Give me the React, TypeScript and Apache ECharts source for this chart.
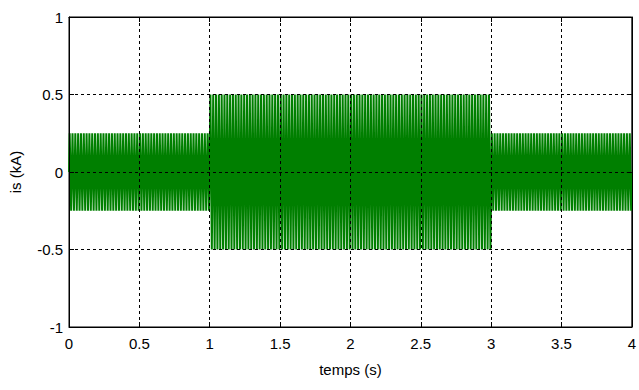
import React, { useEffect, useRef } from "react";
import * as echarts from "echarts";

// Envelope of the current trace
const segmentStart = [0, 1, 3];
const segmentEnd = [1, 3, 4];
const segmentAmplitude = [0.25, 0.5, 0.25]; // kA
const oscillationsPerSecond = 50; // visible strokes per second

const xTickLabels = ["0", "0.5", "1", "1.5", "2", "2.5", "3", "3.5", "4"];
const yTickLabels = ["-1", "-0.5", "0", "0.5", "1"];

function buildTrace(): [number, number][] {
  const pts: [number, number][] = [];
  for (let s = 0; s < segmentStart.length; s++) {
    const halfCycles = Math.round((segmentEnd[s] - segmentStart[s]) * oscillationsPerSecond * 2);
    const step = (segmentEnd[s] - segmentStart[s]) / halfCycles;
    if (s === 0) pts.push([segmentStart[s], 0]);
    for (let k = 0; k < halfCycles; k++) {
      const t = segmentStart[s] + (k + 0.5) * step;
      pts.push([t, k % 2 === 0 ? segmentAmplitude[s] : -segmentAmplitude[s]]);
    }
  }
  pts.push([segmentEnd[segmentEnd.length - 1], 0]);
  return pts;
}

export default function App() {
  const ref = useRef<HTMLDivElement>(null);
  useEffect(() => {
    if (!ref.current) return;
    const chart = echarts.init(ref.current, null, { renderer: "svg" });
    const font = "Liberation Sans, Arial, sans-serif";
    const xVals = xTickLabels.map(Number);
    const yVals = yTickLabels.map(Number);
    const gridLine = { show: true, lineStyle: { color: "#000", type: [3, 3] as any, width: 1 } };
    chart.setOption({
      animation: false,
      backgroundColor: "#fff",
      grid: { left: 68, right: 4, top: 17, bottom: 63, show: true, borderColor: "#000", borderWidth: 1, backgroundColor: "#fff" },
      xAxis: [
        {
          type: "value",
          min: xVals[0],
          max: xVals[xVals.length - 1],
          interval: 0.5,
          z: 5,
          axisLine: { show: true, onZero: false, lineStyle: { color: "#000" } },
          axisTick: { show: true, inside: true, length: 5, lineStyle: { color: "#000" } },
          axisLabel: {
            color: "#000", fontFamily: font, fontSize: 15, margin: 9,
            formatter: (v: number) => xTickLabels[xVals.indexOf(v)] ?? "",
          },
          splitLine: gridLine,
          name: "temps (s)",
          nameLocation: "middle",
          nameGap: 35,
          nameTextStyle: { color: "#000", fontFamily: font, fontSize: 15 },
        },
        {
          type: "value",
          position: "top",
          min: xVals[0],
          max: xVals[xVals.length - 1],
          interval: 0.5,
          z: 5,
          axisLine: { show: true, onZero: false, lineStyle: { color: "#000" } },
          axisTick: { show: true, inside: true, length: 5, lineStyle: { color: "#000" } },
          axisLabel: { show: false },
          splitLine: { show: false },
        },
      ],
      yAxis: [
        {
          type: "value",
          min: yVals[0],
          max: yVals[yVals.length - 1],
          interval: 0.5,
          z: 5,
          axisLine: { show: true, onZero: false, lineStyle: { color: "#000" } },
          axisTick: { show: true, inside: true, length: 5, lineStyle: { color: "#000" } },
          axisLabel: {
            color: "#000", fontFamily: font, fontSize: 15, margin: 6,
            formatter: (v: number) => yTickLabels[yVals.indexOf(v)] ?? "",
          },
          splitLine: gridLine,
          name: "is (kA)",
          nameLocation: "middle",
          nameGap: 46,
          nameTextStyle: { color: "#000", fontFamily: font, fontSize: 15 },
        },
        {
          type: "value",
          position: "right",
          min: yVals[0],
          max: yVals[yVals.length - 1],
          interval: 0.5,
          z: 5,
          axisLine: { show: true, onZero: false, lineStyle: { color: "#000" } },
          axisTick: { show: true, inside: true, length: 5, lineStyle: { color: "#000" } },
          axisLabel: { show: false },
          splitLine: { show: false },
        },
      ],
      series: [
        {
          type: "line",
          data: buildTrace(),
          xAxisIndex: 0,
          yAxisIndex: 0,
          showSymbol: false,
          symbol: "none",
          z: 2,
          lineStyle: { color: "#007f00", width: 2 },
        },
      ],
    });
    return () => chart.dispose();
  }, []);
  return <div ref={ref} style={{ width: 639, height: 390, position: "absolute", left: 0, top: 0 }} />;
}
